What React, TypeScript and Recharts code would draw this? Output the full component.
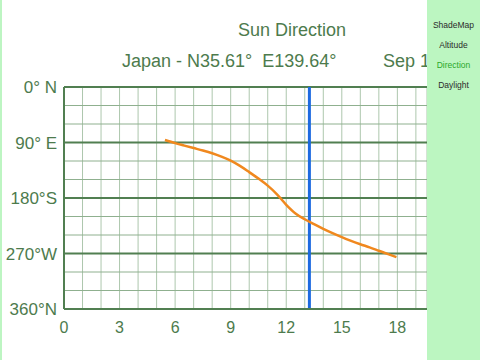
import { CartesianGrid, Line, LineChart, ReferenceLine, XAxis, YAxis } from 'recharts'

// hour of day (local time) and sun azimuth in degrees
const HOURS = [5.45, 6, 6.5, 7, 7.5, 8, 8.5, 9, 9.5, 10, 10.5, 11, 11.5, 12, 12.5, 13, 13.5, 14, 14.5, 15, 15.5, 16, 16.5, 17, 17.5, 17.95]
const AZIMUTH = [86, 91, 95, 99, 103, 107.5, 113, 119.5, 128, 138, 148.5, 160, 174, 191, 205, 214.5, 222.5, 230, 237, 243.5, 249.5, 255, 260, 265.5, 271, 276]

// visible part of the day axis (the rest sits under the side menu)
const X_DOMAIN = [0, 19.6]
const X_TICKS = [0, 1, 2, 3, 4, 5, 6, 7, 8, 9, 10, 11, 12, 13, 14, 15, 16, 17, 18, 19]
const X_LABELED = [0, 3, 6, 9, 12, 15, 18]
const Y_MAJOR = [0, 90, 180, 270, 360]
const Y_LABELS = ['0° N', '90° E', '180°S', '270°W', '360°N']
const Y_MINOR = [30, 60, 120, 150, 210, 240, 300, 330]
const NOW_HOUR = 13.25

const MENU = ['ShadeMap', 'Altitude', 'Direction', 'Daylight']
const ACTIVE_MENU = 'Direction'

const TEXT = '#4d7b4d'
const MAJOR = '#517f51'
const MINOR = '#8fb08f'
const VGRID = '#adc7ad'
const FONT = '"Liberation Sans", Arial, sans-serif'

const data = HOURS.map((h, i) => ({ hour: h, az: AZIMUTH[i] }))

export default function App() {
  return (
    <div
      style={{
        position: 'fixed',
        left: 0,
        top: 0,
        width: 480,
        height: 360,
        overflow: 'hidden',
        background: '#fff',
        fontFamily: FONT,
      }}
    >
      <div style={{ position: 'absolute', left: 0, top: 0, width: 2, height: 360, background: '#bdf5c2' }} />
      <div
        style={{
          position: 'absolute',
          left: 0,
          top: 20,
          width: 584,
          textAlign: 'center',
          fontSize: 18,
          color: TEXT,
        }}
      >
        Sun Direction
      </div>
      <div style={{ position: 'absolute', left: 122, top: 51, fontSize: 18, color: TEXT, whiteSpace: 'pre' }}>
        {'Japan - N35.61°  E139.64°'}
      </div>
      <div style={{ position: 'absolute', left: 383, top: 51, fontSize: 18, color: TEXT, whiteSpace: 'pre' }}>
        Sep 1
      </div>
      <div style={{ position: 'absolute', left: 0, top: 0 }}>
        <LineChart width={427} height={360} data={data} margin={{ top: 87, right: 0, bottom: 21, left: 0 }}>
          <CartesianGrid horizontal={false} stroke={VGRID} strokeWidth={1} />
          {Y_MINOR.map((v) => (
            <ReferenceLine key={'m' + v} y={v} stroke={MINOR} strokeWidth={1} />
          ))}
          {Y_MAJOR.map((v) => (
            <ReferenceLine key={'M' + v} y={v} stroke={MAJOR} strokeWidth={2} />
          ))}
          <XAxis
            type="number"
            dataKey="hour"
            domain={X_DOMAIN}
            ticks={X_TICKS}
            interval={0}
            height={30}
            tickLine={false}
            tickSize={0}
            tickMargin={13}
            axisLine={{ stroke: MAJOR, strokeWidth: 2 }}
            tick={{ fill: TEXT, fontSize: 16, fontFamily: FONT }}
            tickFormatter={(v: number) => (X_LABELED.includes(v) ? String(v) : '')}
          />
          <YAxis
            type="number"
            domain={[0, 360]}
            reversed
            ticks={Y_MAJOR}
            interval={0}
            width={64}
            tickLine={false}
            tickSize={0}
            tickMargin={7}
            axisLine={{ stroke: MAJOR, strokeWidth: 2 }}
            tick={{ fill: TEXT, fontSize: 17, fontFamily: FONT }}
            tickFormatter={(v: number) => Y_LABELS[Y_MAJOR.indexOf(v)] ?? ''}
          />
          <ReferenceLine x={NOW_HOUR} stroke="#1d6ae0" strokeWidth={3} />
          <Line
            type="monotone"
            dataKey="az"
            stroke="#f0881e"
            strokeWidth={2.5}
            dot={false}
            isAnimationActive={false}
          />
        </LineChart>
      </div>
      <div
        style={{
          position: 'absolute',
          left: 427,
          top: 0,
          width: 53,
          height: 360,
          background: '#bcf6c1',
        }}
      >
        {MENU.map((m, i) => (
          <div
            key={m}
            style={{
              position: 'absolute',
              top: 20 + i * 20,
              left: 0,
              width: 53,
              textAlign: 'center',
              fontSize: 8.5,
              color: m === ACTIVE_MENU ? '#2aa82a' : '#2b2b2b',
            }}
          >
            {m}
          </div>
        ))}
      </div>
    </div>
  )
}
